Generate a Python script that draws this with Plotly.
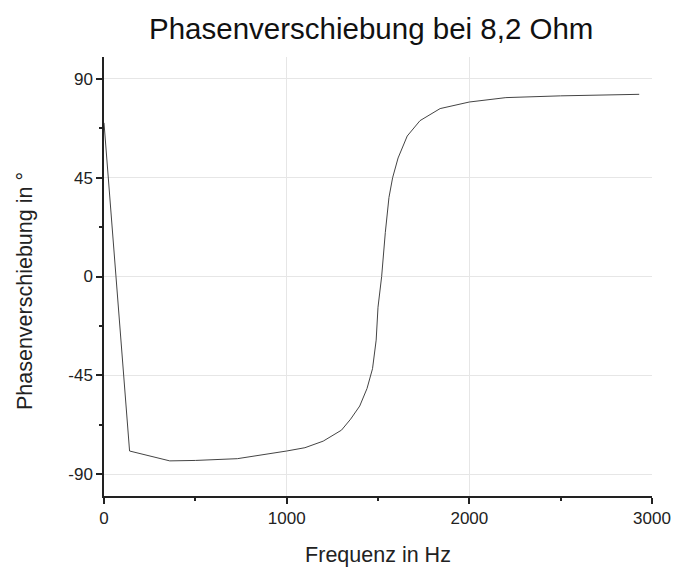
import plotly.graph_objects as go

freq_hz = [0, 140, 360, 500, 730, 850, 1000, 1100, 1200, 1300, 1350, 1400, 1440, 1470,
           1490, 1500, 1520, 1540, 1560, 1580, 1610, 1660, 1730, 1840, 2000, 2200, 2500, 2930]
phase_deg = [70, -79.5, -84, -83.8, -83, -81.5, -79.5, -78, -75, -70, -65, -59, -51, -42,
             -29, -14, 0, 20, 36, 45, 54, 64, 71, 76.5, 79.5, 81.5, 82.3, 83]

x_ticks = [0, 1000, 2000, 3000]
y_ticks = [-90, -45, 0, 45, 90]
y_ticktext = ["-90", "-45", "0", "45", "90"]

fig = go.Figure()
fig.add_trace(go.Scatter(x=freq_hz, y=phase_deg, mode="lines",
                         line=dict(color="#444444", width=1), showlegend=False))

font = "Liberation Sans, Arial, sans-serif"
fig.update_layout(
    width=675, height=570,
    margin=dict(l=104, r=23, t=57, b=74, autoexpand=False),
    paper_bgcolor="white", plot_bgcolor="white",
    font=dict(family=font, color="#222222"),
    title=dict(text="Phasenverschiebung bei 8,2 Ohm", x=0.55, xanchor="center",
               y=0.949, yanchor="middle", font=dict(size=29.5, family=font, color="#111111")),
)
fig.update_xaxes(
    range=[0, 3000], tickvals=x_ticks, ticks="outside", ticklen=6, tickwidth=1.5,
    tickcolor="#222222", showline=True, linecolor="#222222", linewidth=1.5,
    showgrid=True, gridcolor="#e6e6e6", gridwidth=1, zeroline=False,
    minor=dict(tickvals=[500, 1500, 2500], ticks="outside", ticklen=3, tickcolor="#222222", showgrid=False),
    tickfont=dict(size=17), automargin=False,
    title=dict(text="Frequenz in Hz", font=dict(size=21.5), standoff=20),
)
fig.update_yaxes(
    range=[-100, 100], tickvals=y_ticks, ticktext=y_ticktext, ticks="outside", ticklen=6, tickwidth=1.5,
    tickcolor="#222222", showline=True, linecolor="#222222", linewidth=1.5,
    showgrid=True, gridcolor="#e6e6e6", gridwidth=1, zeroline=False,
    minor=dict(tickvals=[-67.5, -22.5, 22.5, 67.5], ticks="outside", ticklen=3, tickcolor="#222222", showgrid=False),
    tickfont=dict(size=17), automargin=False,
)
fig.add_annotation(text="Phasenverschiebung in °", textangle=-90, showarrow=False,
                   xref="paper", yref="paper", x=-0.144, y=0.467,
                   xanchor="center", yanchor="middle", font=dict(size=21.5, color="#222222"))

fig.write_html("out.html")
